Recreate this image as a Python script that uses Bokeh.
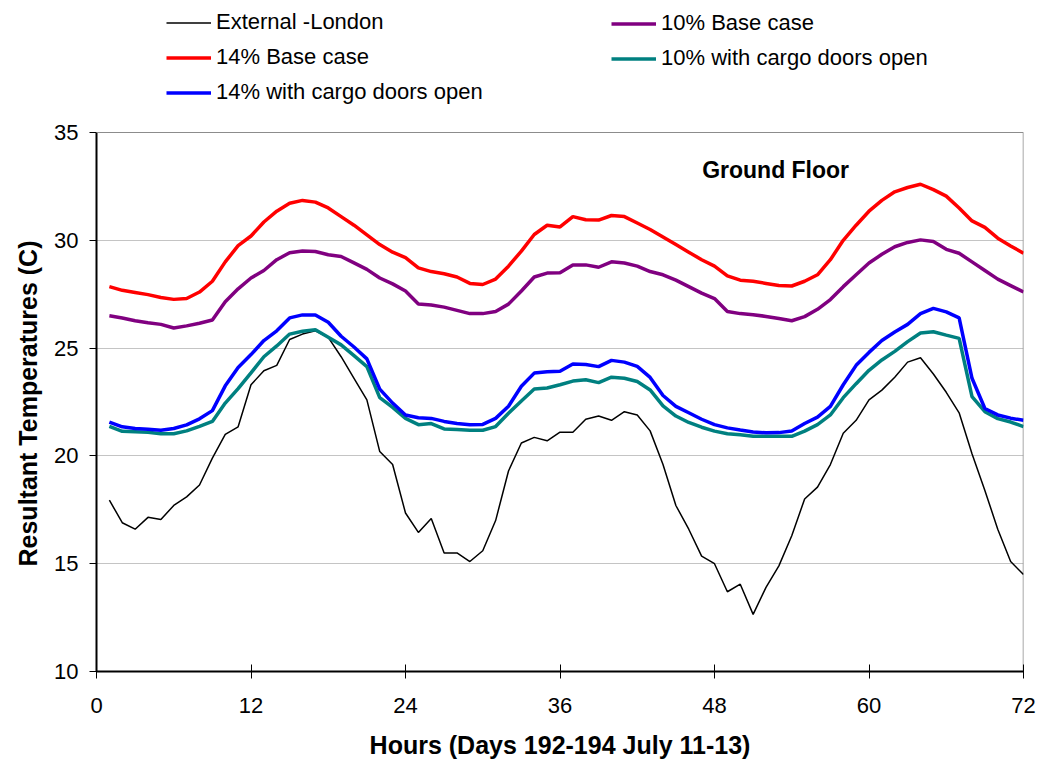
from bokeh.plotting import figure
from bokeh.models import Range1d, FixedTicker, Legend, LegendItem, Label, Span, Title
from bokeh.embed import file_html
from bokeh.resources import INLINE

hours = list(range(1, 73))

external_london = [17.95, 16.9, 16.6, 17.15, 17.05, 17.7, 18.1, 18.65, 19.9, 21.0,
                   21.35, 23.3, 23.95, 24.2, 25.4, 25.65, 25.8, 25.5, 24.6, 23.6,
                   22.6, 20.2, 19.6, 17.35, 16.45, 17.1, 15.5, 15.5, 15.1, 15.6,
                   17.0, 19.3, 20.6, 20.86, 20.7, 21.1, 21.1, 21.7, 21.85, 21.65,
                   22.05, 21.9, 21.16, 19.6, 17.7, 16.6, 15.35, 15.0, 13.7, 14.05,
                   12.65, 13.9, 14.9, 16.3, 18.0, 18.55, 19.6, 21.05, 21.65, 22.6,
                   23.05, 23.65, 24.35, 24.55, 23.8, 22.95, 22.0, 20.1, 18.4, 16.6,
                   15.1, 14.5]

base_14 = [27.85, 27.68, 27.58, 27.48, 27.35, 27.26, 27.3, 27.6, 28.1, 29.0,
           29.75, 30.2, 30.85, 31.35, 31.72, 31.85, 31.77, 31.5, 31.1, 30.7,
           30.25, 29.8, 29.45, 29.2, 28.72, 28.55, 28.45, 28.3, 28.0, 27.95,
           28.2, 28.8, 29.5, 30.27, 30.7, 30.62, 31.1, 30.95, 30.94, 31.15,
           31.1, 30.8, 30.5, 30.15, 29.8, 29.45, 29.1, 28.8, 28.35, 28.15,
           28.1, 28.0, 27.9, 27.88, 28.1, 28.4, 29.1, 30.0, 30.7, 31.35,
           31.85, 32.25, 32.45, 32.6, 32.35, 32.05, 31.5, 30.9, 30.6, 30.1,
           29.74, 29.4]

base_10 = [26.5, 26.4, 26.27, 26.18, 26.1, 25.93, 26.03, 26.15, 26.3, 27.15,
           27.75, 28.25, 28.6, 29.1, 29.42, 29.5, 29.48, 29.33, 29.25, 28.95,
           28.65, 28.25, 27.98, 27.65, 27.05, 27.0, 26.9, 26.75, 26.6, 26.6,
           26.7, 27.04, 27.65, 28.3, 28.48, 28.5, 28.86, 28.86, 28.75, 29.0,
           28.95, 28.8, 28.55, 28.4, 28.15, 27.85, 27.55, 27.3, 26.7, 26.6,
           26.55, 26.47, 26.37, 26.27, 26.46, 26.8, 27.25, 27.85, 28.4, 28.95,
           29.35, 29.7, 29.9, 30.02, 29.94, 29.58, 29.4, 29.0, 28.6, 28.2,
           27.9, 27.6]

cargo_14 = [21.57, 21.35, 21.27, 21.24, 21.19, 21.27, 21.44, 21.72, 22.1, 23.25,
            24.1, 24.7, 25.35, 25.8, 26.4, 26.54, 26.54, 26.2, 25.55, 25.05,
            24.5, 23.1, 22.45, 21.9, 21.77, 21.74, 21.6, 21.5, 21.45, 21.46,
            21.74, 22.3, 23.23, 23.84, 23.9, 23.93, 24.26, 24.24, 24.14, 24.43,
            24.35, 24.15, 23.64, 22.8, 22.3, 22.0, 21.7, 21.45, 21.3, 21.2,
            21.11, 21.07, 21.08, 21.15, 21.5, 21.8, 22.3, 23.3, 24.2, 24.8,
            25.35, 25.75, 26.1, 26.6, 26.84, 26.68, 26.4, 23.6, 22.2, 21.9,
            21.75, 21.65]

cargo_10 = [21.37, 21.14, 21.12, 21.1, 21.03, 21.03, 21.16, 21.37, 21.6, 22.45,
            23.12, 23.85, 24.6, 25.1, 25.65, 25.78, 25.85, 25.5, 25.15, 24.65,
            24.14, 22.7, 22.25, 21.74, 21.45, 21.5, 21.25, 21.22, 21.19, 21.19,
            21.36, 21.98, 22.55, 23.1, 23.15, 23.3, 23.47, 23.53, 23.4, 23.65,
            23.6, 23.45, 23.06, 22.32, 21.85, 21.55, 21.33, 21.15, 21.03, 20.98,
            20.91, 20.91, 20.91, 20.91, 21.15, 21.45, 21.9, 22.7, 23.35, 23.97,
            24.45, 24.85, 25.3, 25.7, 25.76, 25.6, 25.45, 22.75, 22.05, 21.73,
            21.57, 21.36]

x_ticks = [0, 12, 24, 36, 48, 60, 72]
y_ticks = [10, 15, 20, 25, 30, 35]

FONT = "Liberation Sans"

# plot box: 927 x 539 px for 72 h x 25 C; extra headroom above holds the legend
PX_PER_C = 539 / 25.0
HEADROOM_PX = 124
y_top = y_ticks[-1] + HEADROOM_PX / PX_PER_C

p = figure(width=1036, height=763, output_backend="svg", toolbar_location=None,
           x_range=Range1d(x_ticks[0], x_ticks[-1]), y_range=Range1d(y_ticks[0], y_top),
           min_border_left=96, min_border_right=13, min_border_top=8,
           min_border_bottom=92)
p.background_fill_color = "white"
p.border_fill_color = "white"
p.outline_line_color = None

p.xgrid.grid_line_color = None
p.ygrid.grid_line_color = "#c4c4c4"
p.ygrid.grid_line_width = 1
p.ygrid.ticker = FixedTicker(ticks=y_ticks[1:-1])

# plot-area border (top and right), grey like the reference
p.add_layout(Span(location=y_ticks[-1], dimension="width", line_color="#8c8c8c", line_width=1))
p.segment(x0=[x_ticks[-1]], y0=[y_ticks[0]], x1=[x_ticks[-1]], y1=[y_ticks[-1]],
          line_color="#8c8c8c", line_width=1.5)

p.xaxis.ticker = FixedTicker(ticks=x_ticks)
p.yaxis.ticker = FixedTicker(ticks=y_ticks)
p.yaxis.bounds = (y_ticks[0], y_ticks[-1])
p.xaxis.minor_tick_line_color = None
p.yaxis.minor_tick_line_color = None
p.xaxis.major_tick_in = 7
p.xaxis.major_tick_out = 7
p.yaxis.major_tick_in = 0
p.yaxis.major_tick_out = 7
for ax in (p.xaxis, p.yaxis):
    ax.axis_line_color = "black"
    ax.axis_line_width = 2
    ax.major_tick_line_color = "black"
    ax.major_tick_line_width = 1
    ax.major_label_text_font = FONT
    ax.major_label_text_font_size = "22px"
    ax.major_label_text_color = "black"
    ax.axis_label_text_font = FONT
    ax.axis_label_text_font_size = "25px"
    ax.axis_label_text_font_style = "bold"
    ax.axis_label_text_color = "black"
p.xaxis.major_label_standoff = 19
p.yaxis.major_label_standoff = 11
p.xaxis.axis_label_standoff = 15
p.xaxis.axis_label = "Hours (Days 192-194 July 11-13)"

# y-axis title, centred on the 10-35 span of the axis (not on the legend headroom)
p.add_layout(Title(text="Resultant Temperatures (C)", align="left", offset=105,
                   text_font=FONT, text_font_size="25px", text_font_style="bold",
                   text_color="black", standoff=19), "left")

r_ext = p.line(hours, external_london, line_color="black", line_width=1.5)
r_b10 = p.line(hours, base_10, line_color="#800080", line_width=3.5)
r_b14 = p.line(hours, base_14, line_color="#ff0000", line_width=3.5)
r_c10 = p.line(hours, cargo_10, line_color="#008080", line_width=3.5)
r_c14 = p.line(hours, cargo_14, line_color="#0000ff", line_width=3.5)

def make_legend(items, loc):
    return Legend(items=items, location=loc, orientation="vertical",
                  glyph_width=45, glyph_height=25, label_height=25,
                  label_standoff=5, spacing=9, padding=0, margin=0,
                  border_line_color=None, background_fill_alpha=0,
                  label_text_font=FONT, label_text_font_size="22px",
                  label_text_color="black")

# locations: (left, bottom) in px from the plot area's bottom-left corner
leg1 = make_legend([LegendItem(label="External -London", renderers=[r_ext]),
                    LegendItem(label="14% Base case", renderers=[r_b14]),
                    LegendItem(label="14% with cargo doors open", renderers=[r_c14])],
                   (70, 566))
leg2 = make_legend([LegendItem(label="10% Base case", renderers=[r_b10]),
                    LegendItem(label="10% with cargo doors open", renderers=[r_c10])],
                   (515, 600))
p.add_layout(leg1)
p.add_layout(leg2)

p.add_layout(Label(x=47.04, y=33.28, text="Ground Floor", text_font=FONT,
                   text_font_size="23px", text_font_style="bold",
                   text_color="black", text_baseline="middle"))

open("out.html", "w").write(file_html(p, INLINE))
